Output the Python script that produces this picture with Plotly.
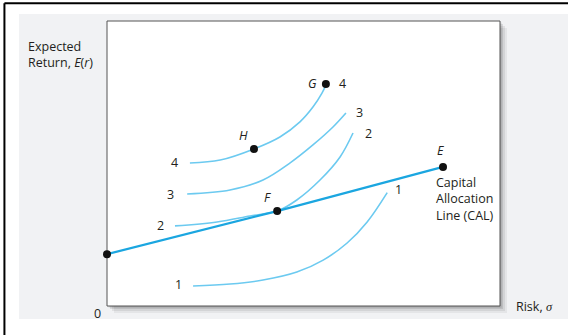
import plotly.graph_objects as go

# data in chart units (x: risk, y: expected return)
cal_x = [0, 43.3, 85.5]
cal_y = [18.2, 33.3, 48.8]

curve1_x = [21.9, 31.3, 39.7, 48.3, 55.0, 61.1, 66.2, 71.3]
curve1_y = [7.0, 7.7, 9.1, 11.9, 16.1, 22.1, 29.5, 39.8]
curve2_x = [17.3, 28.0, 36.4, 43.3, 48.3, 54.2, 59.3, 62.6]
curve2_y = [28.1, 29.5, 31.6, 33.3, 37.2, 44.2, 52.3, 60.7]
curve3_x = [20.4, 31.3, 39.7, 46.6, 52.4, 57.5, 60.8]
curve3_y = [39.3, 40.7, 44.2, 50.2, 56.5, 62.8, 67.7]
curve4_x = [21.1, 28.8, 37.4, 44.0, 49.1, 52.4, 54.7, 55.7]
curve4_y = [50.2, 51.2, 55.1, 59.3, 64.6, 69.8, 74.7, 77.5]

point_names = ["", "F", "E", "H", "G"]
point_x = [0, 43.3, 85.5, 37.4, 55.7]
point_y = [18.2, 33.3, 48.8, 55.1, 77.9]

curve_labels = ["1", "2", "3", "4"]
left_label_x = [19.6, 15.0, 17.6, 18.6]
left_label_y = [7.4, 28.1, 39.3, 50.2]
right_label_x = [72.8, 65.1, 62.8, 58.6]
right_label_y = [40.9, 60.4, 67.9, 77.9]

CURVE = "#6ccaf0"
CAL = "#1ba6e0"
INK = "#231f20"
FONT = "Open Sans"
FS = 12.5

fig = go.Figure()

for cx, cy in [(curve1_x, curve1_y), (curve2_x, curve2_y), (curve3_x, curve3_y), (curve4_x, curve4_y)]:
    fig.add_trace(go.Scatter(x=cx, y=cy, mode="lines",
                             line=dict(color=CURVE, width=1.6, shape="spline", smoothing=1.0),
                             hoverinfo="skip"))

fig.add_trace(go.Scatter(x=cal_x, y=cal_y, mode="lines", cliponaxis=False,
                         line=dict(color=CAL, width=2.2), hoverinfo="skip"))
fig.add_trace(go.Scatter(x=point_x, y=point_y, mode="markers", cliponaxis=False,
                         marker=dict(color="#111111", size=8), hoverinfo="skip"))

ann = []
for lab, x, y in zip(curve_labels, left_label_x, left_label_y):
    ann.append(dict(x=x, y=y, text=lab, xanchor="right", yanchor="middle"))
for lab, x, y in zip(curve_labels, right_label_x, right_label_y):
    ann.append(dict(x=x, y=y, text=lab, xanchor="left", yanchor="middle"))

ann.append(dict(x=point_x[4] - 1.8, y=point_y[4], text="<i>G</i>", xanchor="right", yanchor="middle"))
ann.append(dict(x=point_x[3] - 1.0, y=point_y[3] + 1.2, text="<i>H</i>", xanchor="right", yanchor="bottom"))
ann.append(dict(x=point_x[1] - 1.0, y=point_y[1] + 1.2, text="<i>F</i>", xanchor="right", yanchor="bottom"))
ann.append(dict(x=point_x[2] - 2.0, y=point_y[2] + 2.2, text="<i>E</i>", xanchor="left", yanchor="bottom"))
ann.append(dict(x=83.2, y=47.0, text="Capital<br>Allocation<br>Line (CAL)",
                xanchor="left", yanchor="top", align="left"))

for a in ann:
    a.update(xref="x", yref="y", showarrow=False, font=dict(family=FONT, size=FS, color=INK))

ann.append(dict(xref="paper", yref="paper", x=-0.206, y=0.882, text="Expected<br>Return, <i>E</i>(<i>r</i>)",
                xanchor="left", yanchor="middle", align="left", showarrow=False,
                font=dict(family=FONT, size=FS, color=INK)))
ann.append(dict(xref="paper", yref="paper", x=-0.01, y=-0.025, text="0",
                xanchor="right", yanchor="middle", showarrow=False,
                font=dict(family=FONT, size=FS, color=INK)))
ann.append(dict(xref="paper", yref="paper", x=1.035, y=-0.003,
                text="Risk, <span style='font-family:Liberation Serif'><i>σ</i></span>",
                xanchor="left", yanchor="middle", showarrow=False,
                font=dict(family=FONT, size=FS, color=INK)))

shapes = [
    # grey panel
    dict(type="rect", xref="paper", yref="paper", x0=-0.224, x1=1.18, y0=-0.046, y1=1.025,
         fillcolor="#f1f2f4", line=dict(width=0), layer="below"),
]
# soft shadow of the plot frame
for off, op in [(7, 0.05), (5, 0.07), (3, 0.10), (1.5, 0.12)]:
    shapes.append(dict(type="rect", xref="paper", yref="paper",
                       x0=off / 393, x1=1 + off / 393, y0=-off / 285, y1=1 - off / 285,
                       fillcolor="rgba(0,0,0,%s)" % op, line=dict(width=0), layer="below"))
shapes += [
    dict(type="rect", xref="paper", yref="paper", x0=0, x1=1, y0=0, y1=1,
         fillcolor="white", line=dict(color="#555555", width=1), layer="below"),
    # black outer border (left and top)
    dict(type="line", xref="paper", yref="paper", x0=-0.261, x1=-0.261, y0=-0.11, y1=1.062,
         line=dict(color="black", width=2)),
    dict(type="line", xref="paper", yref="paper", x0=-0.261, x1=1.2, y0=1.062, y1=1.062,
         line=dict(color="black", width=2)),
]

fig.update_layout(
    width=568, height=335,
    margin=dict(l=107, r=68, t=21, b=29),
    paper_bgcolor="white",
    plot_bgcolor="rgba(0,0,0,0)",
    showlegend=False,
    xaxis=dict(range=[0, 100], visible=False, fixedrange=True),
    yaxis=dict(range=[0, 100], visible=False, fixedrange=True),
    annotations=ann,
    shapes=shapes,
)

fig.write_html("out.html", config={"displayModeBar": False},
               post_script="document.body.style.margin='0px';")
